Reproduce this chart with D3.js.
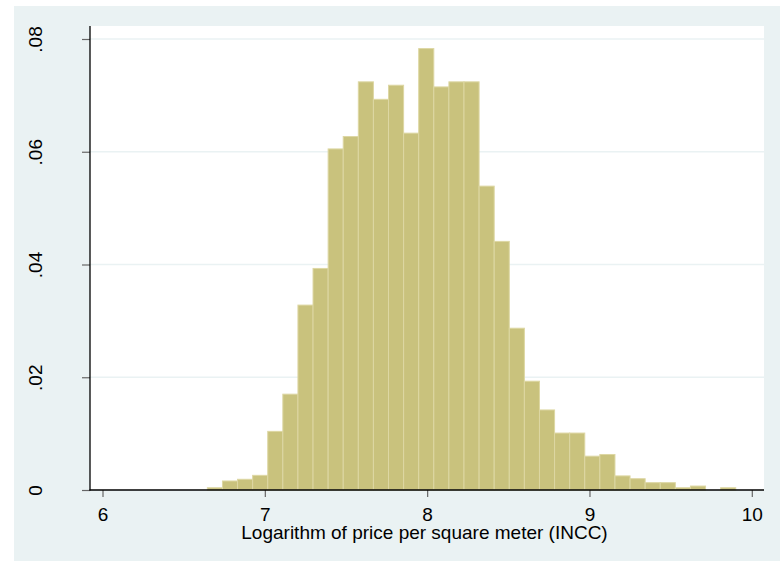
<!DOCTYPE html>
<html>
<head>
<meta charset="utf-8">
<script src="https://cdn.jsdelivr.net/npm/d3@7"></script>
<style>
  html, body { margin: 0; padding: 0; background: #ffffff; }
  svg { display: block; }
  text { font-family: "Liberation Sans", Arial, sans-serif; }
</style>
</head>
<body>
<svg id="chart" width="780" height="561"></svg>
<script>
// Bin edges (log price per m²)
const binEdges = [6.646, 6.739, 6.832, 6.925, 7.018, 7.111, 7.204, 7.297, 7.390, 7.483,
  7.576, 7.669, 7.762, 7.855, 7.948, 8.041, 8.134, 8.227, 8.320, 8.413,
  8.506, 8.599, 8.692, 8.785, 8.878, 8.971, 9.064, 9.157, 9.250, 9.343,
  9.436, 9.529, 9.622, 9.715, 9.808, 9.901];
// Density per bin
const densities = [0.0004, 0.0016, 0.0019, 0.0026, 0.0104, 0.0170, 0.0328, 0.0393, 0.0605, 0.0627,
  0.0724, 0.0693, 0.0718, 0.0633, 0.0783, 0.0715, 0.0724, 0.0724, 0.0539, 0.0441,
  0.0287, 0.0193, 0.0142, 0.0101, 0.0101, 0.0060, 0.0063, 0.0025, 0.0020, 0.0013,
  0.0013, 0.0004, 0.0007, 0.0000, 0.0004];
const xTicks = [6, 7, 8, 9, 10];
const xTickLabels = ["6", "7", "8", "9", "10"];
const yTicks = [0, 0.02, 0.04, 0.06, 0.08];
const yTickLabels = ["0", ".02", ".04", ".06", ".08"];
const xTitle = "Logarithm of price per square meter (INCC)";

const svg = d3.select("#chart");
const plot = { left: 90, right: 764, top: 26, bottom: 490 };

const x = d3.scaleLinear().domain([6, 10]).range([102.5, 751.8]);
const y = d3.scaleLinear().domain([0, 0.08]).range([490, 39]);

// outer background
svg.append("rect").attr("x", 14).attr("y", 6).attr("width", 766).attr("height", 555)
  .attr("fill", "#EAF2F3");
// plot region
svg.append("rect").attr("x", plot.left).attr("y", plot.top)
  .attr("width", plot.right - plot.left).attr("height", plot.bottom - plot.top)
  .attr("fill", "#ffffff");

// gridlines
svg.append("g").selectAll("line").data(yTicks.filter(d => d > 0)).join("line")
  .attr("x1", plot.left).attr("x2", plot.right)
  .attr("y1", d => y(d)).attr("y2", d => y(d))
  .attr("stroke", "#EAF2F3").attr("stroke-width", 1.5);

// bars
const bins = densities.map((v, i) => ({ x0: binEdges[i], x1: binEdges[i + 1], v }));
svg.append("g").selectAll("rect").data(bins.filter(b => b.v > 0)).join("rect")
  .attr("x", d => x(d.x0))
  .attr("width", d => x(d.x1) - x(d.x0))
  .attr("y", d => y(d.v))
  .attr("height", d => y(0) - y(d.v))
  .attr("fill", "#C9C27D")
  .attr("stroke", "#DDD7A3")
  .attr("stroke-width", 1);

// y axis
const yAxis = d3.axisLeft(y).tickValues(yTicks).tickSize(8).tickPadding(0)
  .tickFormat((d, i) => yTickLabels[i]);
const gy = svg.append("g").attr("transform", `translate(${plot.left},0)`).call(yAxis);
gy.select(".domain").remove();
gy.selectAll(".tick line").attr("stroke", "#666").attr("stroke-width", 1.2);
gy.selectAll(".tick text")
  .attr("transform", "rotate(-90)")
  .attr("x", 0).attr("y", -48)
  .attr("dy", 0)
  .attr("text-anchor", "middle")
  .style("font-size", "19px").attr("fill", "#000");

// x axis
const xAxis = d3.axisBottom(x).tickValues(xTicks).tickSize(7).tickPadding(0)
  .tickFormat((d, i) => xTickLabels[i]);
const gx = svg.append("g").attr("transform", `translate(0,${plot.bottom})`).call(xAxis);
gx.select(".domain").remove();
gx.selectAll(".tick line").attr("stroke", "#666").attr("stroke-width", 1.2);
gx.selectAll(".tick text").attr("y", 31).attr("dy", 0)
  .style("font-size", "19px").attr("fill", "#000");

// axis lines
svg.append("line").attr("x1", plot.left).attr("x2", plot.left)
  .attr("y1", plot.top).attr("y2", plot.bottom + 0.5)
  .attr("stroke", "#000").attr("stroke-width", 1.3);
svg.append("line").attr("x1", plot.left - 0.5).attr("x2", plot.right)
  .attr("y1", plot.bottom).attr("y2", plot.bottom)
  .attr("stroke", "#000").attr("stroke-width", 1.3);

// x title
svg.append("text").attr("x", 424.5).attr("y", 539)
  .attr("text-anchor", "middle").style("font-size", "19px").attr("fill", "#000")
  .text(xTitle);
</script>
</body>
</html>
